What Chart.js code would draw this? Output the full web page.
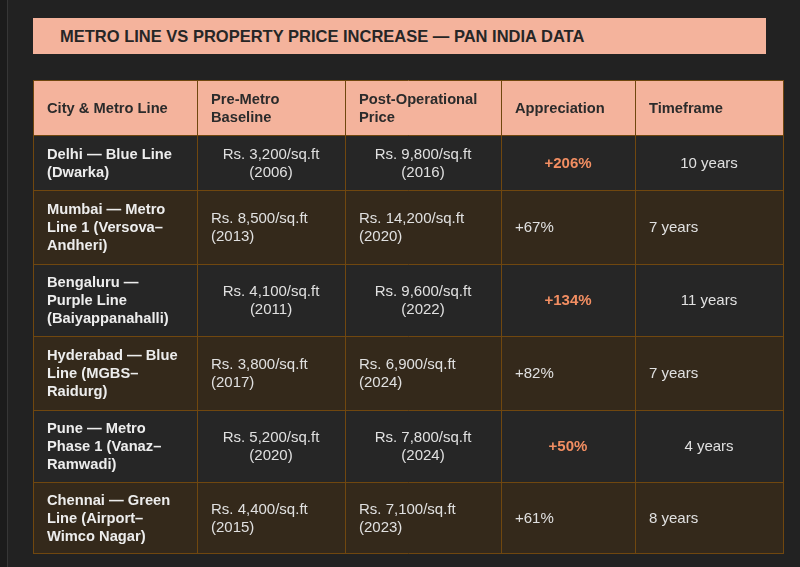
<!DOCTYPE html>
<html>
<head>
<meta charset="utf-8">
<script src="https://cdn.jsdelivr.net/npm/chart.js@4.4.1/dist/chart.umd.min.js"></script>
<style>
  html, body { margin: 0; padding: 0; background: #222222; }
  #wrap { position: relative; width: 800px; height: 567px; overflow: hidden; }
  #edge { position: absolute; left: 0; top: 0; width: 7px; height: 567px; background: #1b1b1b; border-right: 1px solid #363636; }
  #title {
    position: absolute; left: 33px; top: 18px; width: 706px; height: 36px;
    padding-left: 27px; background: #f4b39c; color: #262626;
    font: bold 16.5px "Liberation Sans", Arial, sans-serif; line-height: 37px;
  }
  canvas { position: absolute; left: 0; top: 0; }
</style>
</head>
<body>
<div id="wrap">
  <div id="edge"></div>
  <div id="title">METRO LINE VS PROPERTY PRICE INCREASE — PAN INDIA DATA</div>
  <canvas id="tableChart" width="800" height="567"></canvas>
</div>
<script>
// ================= DATA =================
const headers = [
    ["City & Metro Line"],
    ["Pre-Metro", "Baseline"],
    ["Post-Operational", "Price"],
    ["Appreciation"],
    ["Timeframe"]
];
const cities = [
    ["Delhi — Blue Line", "(Dwarka)"],
    ["Mumbai — Metro", "Line 1 (Versova–", "Andheri)"],
    ["Bengaluru —", "Purple Line", "(Baiyappanahalli)"],
    ["Hyderabad — Blue", "Line (MGBS–", "Raidurg)"],
    ["Pune — Metro", "Phase 1 (Vanaz–", "Ramwadi)"],
    ["Chennai — Green", "Line (Airport–", "Wimco Nagar)"]
];
const prePrice = [3200, 8500, 4100, 3800, 5200, 4400];
const preYear = [2006, 2013, 2011, 2017, 2020, 2015];
const postPrice = [9800, 14200, 9600, 6900, 7800, 7100];
const postYear = [2016, 2020, 2022, 2024, 2024, 2023];
const appreciation = [206, 67, 134, 82, 50, 61];
const timeframe = [10, 7, 11, 7, 4, 8];
const highlighted = [true, false, true, false, true, false];

// ================= LAYOUT (table units) =================
const COL_EDGES = [0, 164, 312, 468, 602, 750];
const ROW_EDGES = [0, 55, 110, 184, 256, 330, 402, 473];
const PAD = 14;
const LINE_H = 18;

const FONT = '"Liberation Sans", Arial, sans-serif';
const COLORS = {
    header: "#f4b39c",
    headerText: "#2b2b2b",
    rowDark: "#262626",
    rowBrown: "#34291b",
    border: "#70470f",
    text: "#e0e0e0",
    cityText: "#ededed",
    accent: "#f28e62"
};

function price(v, y) {
    return ["Rs. " + v.toLocaleString("en-US") + "/sq.ft", "(" + y + ")"];
}

function cellLines(r, c) {
    if (c === 0) return cities[r];
    if (c === 1) return price(prePrice[r], preYear[r]);
    if (c === 2) return price(postPrice[r], postYear[r]);
    if (c === 3) return ["+" + appreciation[r] + "%"];
    return [timeframe[r] + " years"];
}

// ================= TABLE PLUGIN =================
const tablePlugin = {
    id: "tableCells",
    beforeDatasetsDraw(chart) {
        const { ctx, scales: { x, y } } = chart;
        const px = v => Math.round(x.getPixelForValue(v));
        const py = v => Math.round(y.getPixelForValue(v));
        ctx.save();
        ctx.textBaseline = "middle";

        for (let r = 0; r < ROW_EDGES.length - 1; r++) {
            const top = py(ROW_EDGES[r]);
            const bottom = py(ROW_EDGES[r + 1]);
            const mid = (top + bottom) / 2;
            const isHeader = r === 0;
            const d = r - 1;
            const fill = isHeader ? COLORS.header : (d % 2 === 0 ? COLORS.rowDark : COLORS.rowBrown);

            for (let c = 0; c < COL_EDGES.length - 1; c++) {
                const left = px(COL_EDGES[c]);
                const right = px(COL_EDGES[c + 1]);
                ctx.fillStyle = fill;
                ctx.fillRect(left, top, right - left, bottom - top);

                let lines, font, color, align;
                if (isHeader) {
                    lines = headers[c];
                    font = "bold 14.7px " + FONT;
                    color = COLORS.headerText;
                    align = "left";
                } else {
                    lines = cellLines(d, c);
                    align = (c > 0 && highlighted[d]) ? "center" : "left";
                    if (c === 0) {
                        font = "bold 14.7px " + FONT;
                        color = COLORS.cityText;
                    } else if (c === 3 && highlighted[d]) {
                        font = "bold 15px " + FONT;
                        color = COLORS.accent;
                    } else {
                        font = "15px " + FONT;
                        color = COLORS.text;
                    }
                }
                ctx.font = font;
                ctx.fillStyle = color;
                ctx.textAlign = align;
                const tx = align === "center" ? (left + right) / 2 : left + PAD;
                const startY = mid - (lines.length - 1) * LINE_H / 2 + 1;
                lines.forEach((t, i) => ctx.fillText(t, tx, startY + i * LINE_H));
            }
        }

        // grid lines
        ctx.strokeStyle = COLORS.border;
        ctx.lineWidth = 1;
        ctx.beginPath();
        ROW_EDGES.forEach(v => {
            const yy = py(v) + 0.5;
            ctx.moveTo(px(0), yy);
            ctx.lineTo(px(750) + 1, yy);
        });
        COL_EDGES.forEach(v => {
            const xx = px(v) + 0.5;
            ctx.moveTo(xx, py(0));
            ctx.lineTo(xx, py(473) + 1);
        });
        ctx.stroke();
        ctx.restore();
    }
};

// ================= CHART =================
new Chart(document.getElementById("tableChart"), {
    type: "scatter",
    data: { datasets: [{ data: [], pointRadius: 0 }] },
    options: {
        responsive: false,
        animation: false,
        devicePixelRatio: 1,
        layout: { padding: { left: 33, right: 17, top: 80, bottom: 14 } },
        plugins: { legend: { display: false }, tooltip: { enabled: false } },
        scales: {
            x: { type: "linear", min: 0, max: 750, display: false },
            y: { type: "linear", min: 0, max: 473, reverse: true, display: false }
        }
    },
    plugins: [tablePlugin]
});
</script>
</body>
</html>
